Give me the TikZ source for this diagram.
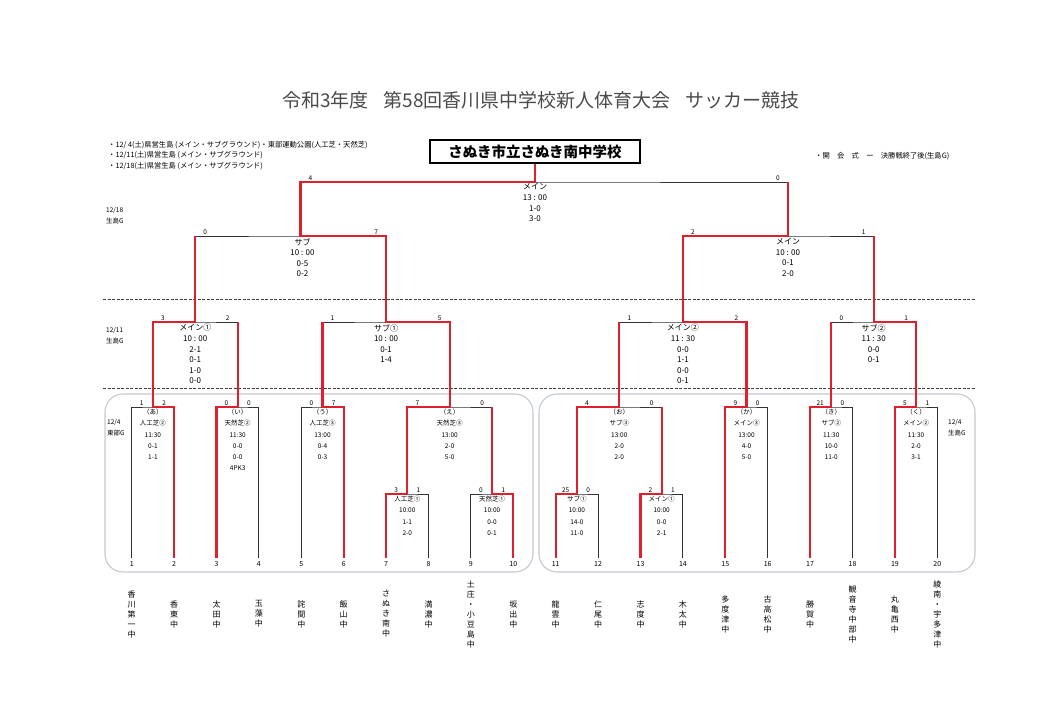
\documentclass[tikz,border=0pt]{standalone}
\usepackage{fontspec}
\setmainfont{Noto Sans CJK JP}
\usetikzlibrary{calc}
\definecolor{winred}{RGB}{222,32,44}
\definecolor{boxgray}{RGB}{196,202,210}
\definecolor{titlegray}{RGB}{75,75,75}
\newcommand\matchscores[6]{%
  \node[sc] (#1l) at ($(#2|-#4)+(10,-1.5)$) {#5};
  \node[sc] (#1r) at ($(#3|-#4)+(-10,-1.5)$) {#6};}
\begin{document}
\begin{tikzpicture}[x=1pt,y=-1pt,
  bline/.style={draw=black!80, line width=0.9pt},
  win/.style={draw=winred, line width=2.3pt, line join=miter},
  sc/.style={font=\fontsize{6.5}{6.5}\selectfont, inner sep=0pt, anchor=south},
  infosm/.style={font=\fontsize{6.5}{11.2}\selectfont, align=center, inner sep=0pt, anchor=north},
  infobig/.style={font=\fontsize{8}{10.6}\selectfont, align=center, inner sep=0pt, anchor=north},
  lbl/.style={font=\fontsize{6.5}{11}\selectfont, align=left, inner sep=0pt, anchor=north west},
  note/.style={font=\fontsize{7.3}{7.3}\selectfont, inner sep=0pt, anchor=west},
  leafno/.style={font=\fontsize{7}{7}\selectfont, inner sep=0pt},
  team/.style={font=\fontsize{8}{10}\selectfont, align=center, inner sep=0pt},
  dash line/.style={draw=black!75, line width=0.8pt, dash pattern=on 3pt off 1.5pt},
  roundbox/.style={draw=boxgray, line width=1.1pt, rounded corners=18pt}]
\useasboundingbox (0,0) rectangle (1057,710);
\fill[white] (0,0) rectangle (1057,710);

% title and notes
\node[font=\fontsize{19}{19}\selectfont, text=titlegray, inner sep=0pt] (title) at (541,100)
  {令和3年度\hspace{15pt}第58回香川県中学校新人体育大会\hspace{15pt}サッカー競技};
\node[note] (n1) at (108,145) {・12/ 4(土)県営生島 (メイン・サブグラウンド)・東部運動公園(人工芝・天然芝)};
\node[note] (n2) at (108,155.5) {・12/11(土)県営生島 (メイン・サブグラウンド)};
\node[note] (n3) at (108,166) {・12/18(土)県営生島 (メイン・サブグラウンド)};
\node[note] (n4) at (815,156) {・開　会　式　ー　決勝戦終了後(生島G)};
\node[draw=black, line width=1.8pt, minimum width=210pt, minimum height=23pt, inner sep=0pt,
  font=\fontsize{14.5}{14.5}\selectfont\bfseries] (champ) at (535,151.5) {さぬき市立さぬき南中学校};

% day labels
\node[lbl] (d18) at (106,207) {12/18\\生島G};
\node[lbl] (d11) at (106,327) {12/11\\生島G};
\node[lbl] (d4a) at (107,419) {12/4\\東部G};
\node[lbl] (d4b) at (948,419) {12/4\\生島G};

% separators and group frames
\draw[dash line] (103,299.5) -- (975,299.5);
\draw[dash line] (103,388) -- (975,388);
\draw[roundbox] (105,394) rectangle (533,572);
\draw[roundbox] (539,394) rectangle (975,572);

% leaves
\foreach \i in {1,...,20} {
  \coordinate (L\i) at ({131.7+(\i-1)*42.4},558);
  \node[leafno] (num\i) at ({131.7+(\i-1)*42.4},564) {\i};
}
\foreach \i/\nm in {1/{香\\川\\第\\一\\中},2/{香\\東\\中},3/{太\\田\\中},4/{玉\\藻\\中},
  5/{詫\\間\\中},6/{飯\\山\\中},7/{さ\\ぬ\\き\\南\\中},8/{満\\濃\\中},
  9/{土\\庄\\・\\小\\豆\\島\\中},10/{坂\\出\\中},11/{龍\\雲\\中},12/{仁\\尾\\中},
  13/{志\\度\\中},14/{木\\太\\中},15/{多\\度\\津\\中},16/{古\\高\\松\\中},
  17/{勝\\賀\\中},18/{観\\音\\寺\\中\\部\\中},19/{丸\\亀\\西\\中},20/{綾\\南\\・\\宇\\多\\津\\中}} {
  \node[team] (team\i) at ({131.7+(\i-1)*42.4},614) {\nm};
}

% match junctions
\coordinate (mA) at (152.9,407);
\coordinate (mB) at (237.7,407);
\coordinate (mC) at (322.5,407);
\coordinate (mD1) at (407.3,494);
\coordinate (mD2) at (492.1,494);
\coordinate (mE) at (449.7,407);
\coordinate (mF1) at (576.9,494);
\coordinate (mF2) at (661.7,494);
\coordinate (mF) at (619.3,407);
\coordinate (mG) at (746.5,407);
\coordinate (mH) at (831.3,407);
\coordinate (mI) at (916.1,407);
\coordinate (mM1) at (195.3,322);
\coordinate (mS1) at (386.1,322);
\coordinate (mM2) at (682.9,322);
\coordinate (mS2) at (873.7,322);
\coordinate (mSub) at (300.5,236);
\coordinate (mRM) at (788,236);
\coordinate (mFin) at (535,182);

% black bracket
\draw[bline] (L1) |- (mA) -| (L2);
\draw[bline] (L3) |- (mB) -| (L4);
\draw[bline] (L5) |- (mC) -| (L6);
\draw[bline] (L7) |- (mD1) -| (L8);
\draw[bline] (L9) |- (mD2) -| (L10);
\draw[bline] (mD1) |- (mE) -| (mD2);
\draw[bline] (L11) |- (mF1) -| (L12);
\draw[bline] (L13) |- (mF2) -| (L14);
\draw[bline] (mF1) |- (mF) -| (mF2);
\draw[bline] (L15) |- (mG) -| (L16);
\draw[bline] (L17) |- (mH) -| (L18);
\draw[bline] (L19) |- (mI) -| (L20);
\draw[bline] (mA) |- (mM1) -| (mB);
\draw[bline] (mC) |- (mS1) -| (mE);
\draw[bline] (mF) |- (mM2) -| (mG);
\draw[bline] (mH) |- (mS2) -| (mI);
\draw[bline] (mM1) |- (mSub) -| (mS1);
\draw[bline] (mM2) |- (mRM) -| (mS2);
\draw[bline] (mSub) |- (mFin) -| (mRM);

% winner paths
\draw[win] (L2) |- (mA) |- (mM1) -- (mM1|-mSub);
\draw[win] (L3) |- (mB) -- (mB|-mM1);
\draw[win] (L6) |- (mC) -- (mC|-mS1);
\draw[win] (L7) |- (mD1) |- (mE) |- (mS1) |- (mSub) |- (mFin) -- (champ.south);
\draw[win] (L10) |- (mD2) -- (mD2|-mE);
\draw[win] (L11) |- (mF1) |- (mF) -- (mF|-mM2);
\draw[win] (L13) |- (mF2) -- (mF2|-mF);
\draw[win] (L15) |- (mG) |- (mM2) |- (mRM) -- (mRM|-mFin);
\draw[win] (L17) |- (mH) -- (mH|-mS2);
\draw[win] (L19) |- (mI) |- (mS2) -- (mS2|-mRM);

% scores
\matchscores{sA}{L1}{L2}{mA}{1}{2}
\matchscores{sB}{L3}{L4}{mB}{0}{0}
\matchscores{sC}{L5}{L6}{mC}{0}{7}
\matchscores{sD1}{L7}{L8}{mD1}{3}{1}
\matchscores{sD2}{L9}{L10}{mD2}{0}{1}
\matchscores{sE}{mD1}{mD2}{mE}{7}{0}
\matchscores{sF1}{L11}{L12}{mF1}{25}{0}
\matchscores{sF2}{L13}{L14}{mF2}{2}{1}
\matchscores{sF}{mF1}{mF2}{mF}{4}{0}
\matchscores{sG}{L15}{L16}{mG}{9}{0}
\matchscores{sH}{L17}{L18}{mH}{21}{0}
\matchscores{sI}{L19}{L20}{mI}{5}{1}
\matchscores{sM1}{mA}{mB}{mM1}{3}{2}
\matchscores{sS1}{mC}{mE}{mS1}{1}{5}
\matchscores{sM2}{mF}{mG}{mM2}{1}{2}
\matchscores{sS2}{mH}{mI}{mS2}{0}{1}
\matchscores{sSub}{mM1}{mS1}{mSub}{0}{7}
\matchscores{sRM}{mM2}{mS2}{mRM}{2}{1}
\matchscores{sFin}{mSub}{mRM}{mFin}{4}{0}

% match information
\node[infosm] (iA) at ($(mA)+(0,2)$) {（あ）\\人工芝②\\11:30\\0-1\\1-1};
\node[infosm] (iB) at ($(mB)+(0,2)$) {（い）\\天然芝②\\11:30\\0-0\\0-0\\4PK3};
\node[infosm] (iC) at ($(mC)+(0,2)$) {（う）\\人工芝③\\13:00\\0-4\\0-3};
\node[infosm] (iE) at ($(mE)+(0,2)$) {（え）\\天然芝③\\13:00\\2-0\\5-0};
\node[infosm] (iD1) at ($(mD1)+(0,2)$) {人工芝①\\10:00\\1-1\\2-0};
\node[infosm] (iD2) at ($(mD2)+(0,2)$) {天然芝①\\10:00\\0-0\\0-1};
\node[infosm] (iF) at ($(mF)+(0,2)$) {（お）\\サブ③\\13:00\\2-0\\2-0};
\node[infosm] (iF1) at ($(mF1)+(0,2)$) {サブ①\\10:00\\14-0\\11-0};
\node[infosm] (iF2) at ($(mF2)+(0,2)$) {メイン①\\10:00\\0-0\\2-1};
\node[infosm] (iG) at ($(mG)+(0,2)$) {（か）\\メイン③\\13:00\\4-0\\5-0};
\node[infosm] (iH) at ($(mH)+(0,2)$) {（き）\\サブ②\\11:30\\10-0\\11-0};
\node[infosm] (iI) at ($(mI)+(0,2)$) {（く）\\メイン②\\11:30\\2-0\\3-1};
\node[infobig] (iM1) at ($(mM1)+(0,2)$) {メイン①\\10 : 00\\2-1\\0-1\\1-0\\0-0};
\node[infobig] (iS1) at ($(mS1)+(0,2)$) {サブ①\\10 : 00\\0-1\\1-4};
\node[infobig] (iM2) at ($(mM2)+(0,2)$) {メイン②\\11 : 30\\0-0\\1-1\\0-0\\0-1};
\node[infobig] (iS2) at ($(mS2)+(0,2)$) {サブ②\\11 : 30\\0-0\\0-1};
\node[infobig] (iSub) at ($(mSub)+(2,2)$) {サブ\\10 : 00\\0-5\\0-2};
\node[infobig] (iRM) at ($(mRM)+(0,2)$) {メイン\\10 : 00\\0-1\\2-0};
\node[infobig] (iFin) at ($(mFin)+(0,1.5)$) {メイン\\13 : 00\\1-0\\3-0};
\end{tikzpicture}
\end{document}
